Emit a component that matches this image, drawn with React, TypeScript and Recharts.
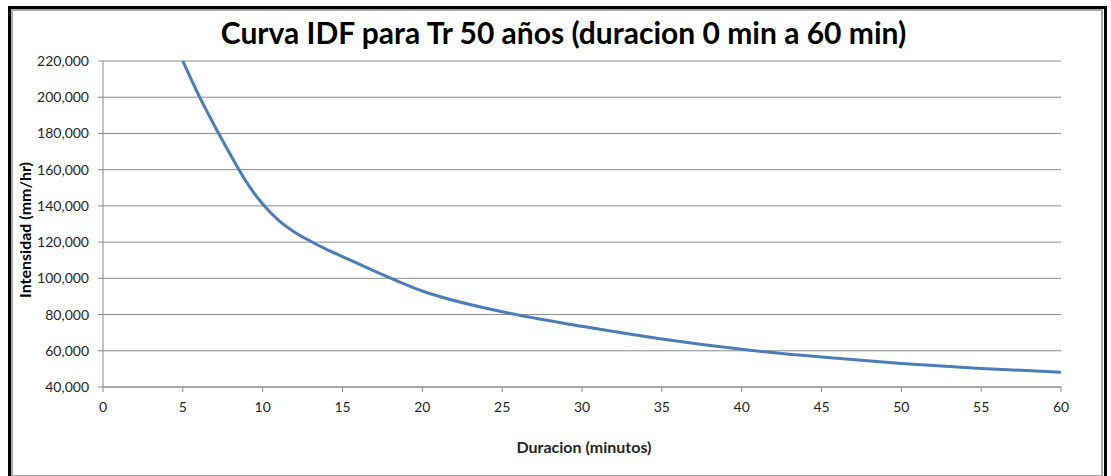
import { LineChart, Line, XAxis, YAxis, CartesianGrid } from 'recharts'

const durations = [5, 6, 7, 8, 9, 10, 11, 12, 13, 14, 15, 17, 20, 25, 30, 35, 40, 45, 50, 55, 60]
const intensities = [
  220000, 201000, 184000, 168000, 153000, 141000, 132000, 125500, 120500, 116000, 112000,
  104000, 93000, 81500, 73500, 66500, 60800, 56500, 53000, 50200, 48200,
]
const xTicks = [0, 5, 10, 15, 20, 25, 30, 35, 40, 45, 50, 55, 60]
const yTicks = [40000, 60000, 80000, 100000, 120000, 140000, 160000, 180000, 200000, 220000]

const title = 'Curva IDF para Tr 50 años (duracion 0 min a 60 min)'
const xLabel = 'Duracion (minutos)'
const yLabel = 'Intensidad (mm/hr)'

const data = durations.map((d, i) => ({ duracion: d, intensidad: intensities[i] }))

const font = "Lato, 'Open Sans', sans-serif"
const tickStyle = { fill: '#262626', fontSize: 14, fontFamily: font }

export default function App() {
  return (
    <div style={{ position: 'absolute', left: 0, top: 0, width: 1111, height: 476, background: '#fff', overflow: 'hidden' }}>
      <div style={{ position: 'absolute', left: 8, top: 6, width: 1093, height: 480, border: '3px solid #000' }} />
      <div style={{ position: 'absolute', left: 11, top: 9, width: 1088, height: 464, border: '2px solid #a6a6a6' }} />
      <div
        style={{
          position: 'absolute',
          left: 0,
          width: 1111,
          top: 14,
          textAlign: 'center',
          fontFamily: font,
          fontWeight: 700,
          fontSize: 30,
          color: '#000',
          paddingLeft: 8,
        }}
      >
        {title}
      </div>
      <LineChart
        width={1111}
        height={476}
        data={data}
        margin={{ top: 61, right: 50, bottom: 29, left: 0 }}
        style={{ position: 'absolute', left: 0, top: 0 }}
      >
        <CartesianGrid vertical={false} stroke="#8c8c8c" />
        <XAxis
          dataKey="duracion"
          type="number"
          domain={[0, 60]}
          ticks={xTicks}
          height={60}
          tickSize={5}
          tickMargin={10}
          stroke="#8c8c8c"
          tick={tickStyle}
          label={() => (
            <text x={584} y={453} textAnchor="middle" fontFamily={font} fontWeight={700} fontSize={16} fill="#262626">
              {xLabel}
            </text>
          )}
        />
        <YAxis
          type="number"
          domain={[40000, 220000]}
          ticks={yTicks}
          width={103}
          tickSize={5}
          tickMargin={9}
          stroke="#8c8c8c"
          tick={tickStyle}
          tickFormatter={(v: number) => v.toLocaleString('en-US')}
          label={() => (
            <text
              x={31}
              y={230}
              transform="rotate(-90 31 230)"
              textAnchor="middle"
              fontFamily={font}
              fontWeight={700}
              fontSize={16}
              fill="#000"
            >
              {yLabel}
            </text>
          )}
        />
        <Line
          type="monotone"
          dataKey="intensidad"
          stroke="#4a7ebb"
          strokeWidth={3}
          dot={false}
          isAnimationActive={false}
        />
      </LineChart>
    </div>
  )
}
